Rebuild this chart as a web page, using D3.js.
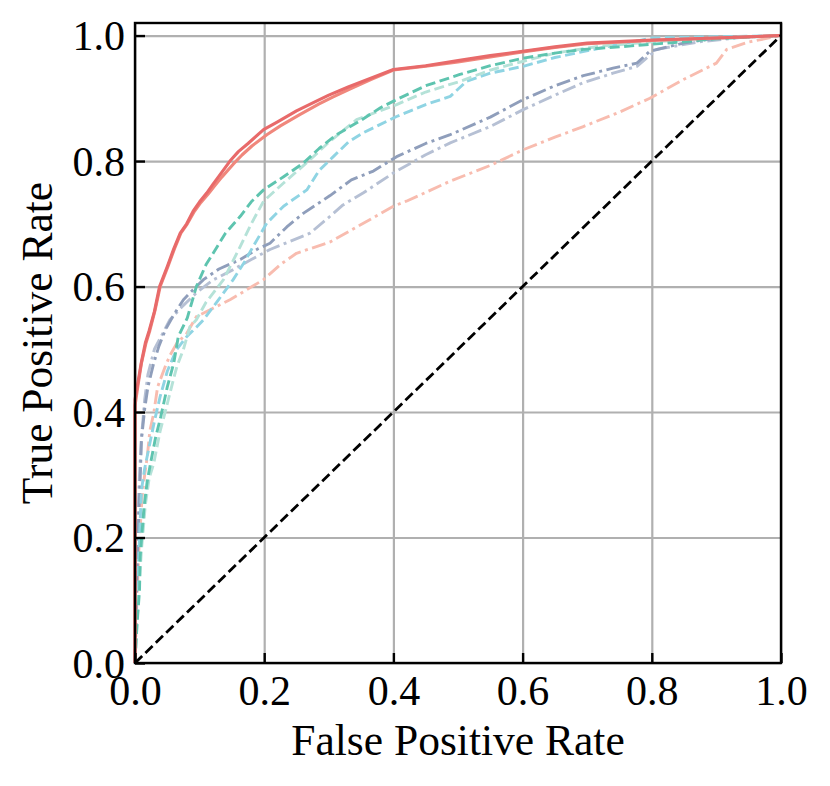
<!DOCTYPE html>
<html>
<head>
<meta charset="utf-8">
<script src="https://cdn.jsdelivr.net/npm/d3@7.9.0/dist/d3.min.js"></script>
<style>
  html, body { margin: 0; padding: 0; background: #fff; }
  svg text { font-family: "Liberation Serif", "Times New Roman", serif; fill: #000; }
</style>
</head>
<body>
<div id="chart"></div>
<script>
// ROC curves, [false positive rate, true positive rate]
const redDark = [[0,0],[0,0.42],[0.005,0.45],[0.01,0.48],[0.016,0.51],[0.022,0.53],[0.03,0.56],[0.038,0.60],[0.05,0.632],[0.06,0.66],[0.07,0.685],[0.08,0.70],[0.09,0.72],[0.1,0.735],[0.111,0.749],[0.12,0.762],[0.13,0.776],[0.147,0.80],[0.16,0.815],[0.175,0.828],[0.199,0.85],[0.22,0.862],[0.25,0.88],[0.28,0.895],[0.3,0.905],[0.33,0.918],[0.36,0.93],[0.4,0.946],[0.45,0.952],[0.5,0.96],[0.55,0.968],[0.6,0.975],[0.65,0.982],[0.7,0.988],[0.8,0.993],[0.9,0.996],[1,1]];
const redLight = [[0,0],[0,0.41],[0.005,0.445],[0.01,0.478],[0.017,0.51],[0.023,0.53],[0.031,0.562],[0.039,0.60],[0.051,0.632],[0.061,0.66],[0.071,0.685],[0.081,0.70],[0.092,0.72],[0.102,0.734],[0.113,0.747],[0.123,0.76],[0.134,0.774],[0.152,0.795],[0.166,0.81],[0.181,0.824],[0.204,0.842],[0.225,0.856],[0.255,0.874],[0.285,0.891],[0.306,0.902],[0.335,0.916],[0.365,0.93],[0.4,0.945],[0.45,0.951],[0.5,0.958],[0.55,0.966],[0.6,0.974],[0.65,0.981],[0.7,0.987],[0.8,0.992],[0.9,0.996],[1,1]];
const tealDark = [[0,0],[0.003,0.06],[0.007,0.116],[0.008,0.17],[0.011,0.21],[0.014,0.249],[0.019,0.29],[0.024,0.318],[0.032,0.36],[0.04,0.393],[0.05,0.44],[0.06,0.478],[0.067,0.52],[0.081,0.55],[0.095,0.60],[0.11,0.635],[0.121,0.653],[0.14,0.685],[0.163,0.712],[0.18,0.735],[0.199,0.754],[0.23,0.775],[0.261,0.797],[0.285,0.82],[0.312,0.842],[0.35,0.865],[0.38,0.885],[0.405,0.898],[0.45,0.92],[0.503,0.938],[0.55,0.952],[0.601,0.964],[0.65,0.972],[0.694,0.978],[0.75,0.982],[0.797,0.986],[0.85,0.99],[0.9,0.995],[1,1]];
const tealLight = [[0,0],[0.005,0.1],[0.01,0.18],[0.016,0.252],[0.022,0.295],[0.029,0.318],[0.039,0.37],[0.045,0.393],[0.059,0.45],[0.065,0.473],[0.075,0.50],[0.085,0.536],[0.095,0.547],[0.11,0.575],[0.137,0.611],[0.163,0.664],[0.18,0.70],[0.199,0.736],[0.23,0.765],[0.271,0.802],[0.3,0.83],[0.343,0.866],[0.405,0.89],[0.45,0.91],[0.503,0.927],[0.55,0.945],[0.601,0.959],[0.65,0.972],[0.72,0.983],[0.8,0.99],[0.9,0.996],[1,1]];
const skyBlue = [[0,0],[0.004,0.12],[0.007,0.2],[0.01,0.276],[0.015,0.31],[0.021,0.34],[0.03,0.385],[0.039,0.425],[0.05,0.465],[0.064,0.499],[0.08,0.52],[0.095,0.535],[0.106,0.547],[0.13,0.58],[0.152,0.611],[0.17,0.64],[0.183,0.664],[0.204,0.701],[0.23,0.728],[0.266,0.754],[0.285,0.785],[0.307,0.807],[0.33,0.83],[0.353,0.845],[0.405,0.871],[0.45,0.89],[0.488,0.903],[0.513,0.927],[0.55,0.94],[0.601,0.951],[0.65,0.965],[0.72,0.98],[0.8,0.996],[0.9,0.998],[1,1]];
const slateDark = [[0,0],[0.002,0.1],[0.005,0.21],[0.008,0.292],[0.01,0.356],[0.015,0.405],[0.02,0.44],[0.029,0.478],[0.037,0.505],[0.047,0.531],[0.06,0.555],[0.075,0.579],[0.09,0.595],[0.106,0.611],[0.13,0.628],[0.163,0.643],[0.19,0.66],[0.209,0.669],[0.235,0.695],[0.261,0.717],[0.302,0.745],[0.335,0.77],[0.369,0.784],[0.405,0.807],[0.45,0.828],[0.488,0.842],[0.55,0.87],[0.601,0.898],[0.65,0.92],[0.694,0.936],[0.74,0.948],[0.777,0.956],[0.797,0.975],[0.849,0.988],[0.9,0.996],[1,1]];
const slateLight = [[0,0],[0.002,0.12],[0.004,0.22],[0.007,0.3],[0.01,0.36],[0.015,0.42],[0.02,0.46],[0.03,0.5],[0.054,0.547],[0.075,0.57],[0.095,0.59],[0.12,0.61],[0.152,0.627],[0.18,0.643],[0.209,0.659],[0.24,0.672],[0.271,0.685],[0.302,0.712],[0.322,0.73],[0.353,0.749],[0.4,0.781],[0.45,0.81],[0.488,0.829],[0.55,0.855],[0.601,0.882],[0.65,0.905],[0.694,0.925],[0.74,0.94],[0.777,0.951],[0.808,0.978],[0.873,0.99],[0.94,0.997],[1,1]];
const peach = [[0,0],[0.003,0.1],[0.006,0.18],[0.011,0.265],[0.015,0.3],[0.019,0.329],[0.023,0.37],[0.029,0.398],[0.035,0.44],[0.047,0.473],[0.054,0.49],[0.065,0.51],[0.08,0.525],[0.095,0.552],[0.12,0.565],[0.147,0.579],[0.17,0.593],[0.199,0.611],[0.225,0.635],[0.25,0.653],[0.302,0.671],[0.364,0.707],[0.4,0.728],[0.42,0.736],[0.45,0.75],[0.488,0.768],[0.55,0.793],[0.601,0.818],[0.65,0.838],[0.694,0.855],[0.75,0.878],[0.797,0.9],[0.849,0.93],[0.9,0.956],[0.916,0.978],[0.951,0.99],[1,1]];
const chance = [[0,0],[1,1]];

const seriesNames = ["peach", "slateLight", "slateDark", "skyBlue", "tealLight", "tealDark", "redLight", "redDark"];
const seriesData = [peach, slateLight, slateDark, skyBlue, tealLight, tealDark, redLight, redDark];
const seriesColors = ["#f8bcaf", "#b6c0d4", "#8f9ebb", "#8fd4e3", "#b5e2d8", "#5ec4af", "#f0877c", "#e86a6a"];
const seriesDash = ["14,4.5,3,4.5", "14,4.5,3,4.5", "14,4.5,3,4.5", "10,4.5", "10,4.5", "10,4.5", null, null];

const xTicks = [0, 0.2, 0.4, 0.6, 0.8, 1.0];
const yTicks = [0, 0.2, 0.4, 0.6, 0.8, 1.0];

const width = 830;
const height = 786;
const plot = { left: 135, right: 781, top: 23, bottom: 663 };

const svg = d3.select('#chart')
    .append('svg')
    .attr('width', width)
    .attr('height', height);

const xScale = d3.scaleLinear().domain([0, 1]).range([plot.left, plot.right]);
const yScale = d3.scaleLinear().domain([0, 1.02]).range([plot.bottom, plot.top]);

// Gridlines
svg.append('g')
    .attr('transform', `translate(0, ${plot.bottom})`)
    .call(d3.axisBottom(xScale).tickValues(xTicks).tickFormat('').tickSize(-(plot.bottom - plot.top)))
    .call(g => g.select('.domain').remove())
    .call(g => g.selectAll('line').attr('stroke', '#b0b0b0').attr('stroke-width', 2.2));

svg.append('g')
    .attr('transform', `translate(${plot.left}, 0)`)
    .call(d3.axisLeft(yScale).tickValues(yTicks).tickFormat('').tickSize(-(plot.right - plot.left)))
    .call(g => g.select('.domain').remove())
    .call(g => g.selectAll('line').attr('stroke', '#b0b0b0').attr('stroke-width', 2.2));

// Curves
const line = d3.line()
    .x(d => xScale(d[0]))
    .y(d => yScale(d[1]));

const curves = svg.append('g').attr('class', 'curves');

seriesData.forEach((data, i) => {
    curves.append('path')
        .datum(data)
        .attr('class', seriesNames[i])
        .attr('d', line)
        .attr('fill', 'none')
        .attr('stroke', seriesColors[i])
        .attr('stroke-width', seriesDash[i] ? 2.9 : 3.1)
        .attr('stroke-linejoin', 'round')
        .attr('stroke-dasharray', seriesDash[i]);
});

curves.append('path')
    .datum(chance)
    .attr('d', line)
    .attr('fill', 'none')
    .attr('stroke', '#000')
    .attr('stroke-width', 2.8)
    .attr('stroke-dasharray', '10,4.5');

// Axes with inward ticks
const xAxis = d3.axisBottom(xScale)
    .tickValues(xTicks)
    .tickFormat(d3.format('.1f'))
    .tickSize(-10)
    .tickPadding(12);

const yAxis = d3.axisLeft(yScale)
    .tickValues(yTicks)
    .tickFormat(d3.format('.1f'))
    .tickSize(-10)
    .tickPadding(10);

const gx = svg.append('g')
    .attr('transform', `translate(0, ${plot.bottom})`)
    .call(xAxis);

const gy = svg.append('g')
    .attr('transform', `translate(${plot.left}, 0)`)
    .call(yAxis);

[gx, gy].forEach(g => {
    g.select('.domain').remove();
    g.selectAll('line').attr('stroke', '#000').attr('stroke-width', 2.4);
    g.selectAll('text').attr('font-size', 42).attr('font-family', '"Liberation Serif", serif');
});
gy.selectAll('text').attr('dy', '0.34em');

// Frame
svg.append('rect')
    .attr('x', plot.left)
    .attr('y', plot.top)
    .attr('width', plot.right - plot.left)
    .attr('height', plot.bottom - plot.top)
    .attr('fill', 'none')
    .attr('stroke', '#000')
    .attr('stroke-width', 2.4);

// Axis labels
svg.append('text')
    .attr('x', (plot.left + plot.right) / 2)
    .attr('y', 755)
    .attr('text-anchor', 'middle')
    .attr('font-size', 43.5)
    .text('False Positive Rate');

svg.append('text')
    .attr('transform', `translate(52, ${(plot.top + plot.bottom) / 2}) rotate(-90)`)
    .attr('text-anchor', 'middle')
    .attr('font-size', 43.5)
    .text('True Positive Rate');
</script>
</body>
</html>
